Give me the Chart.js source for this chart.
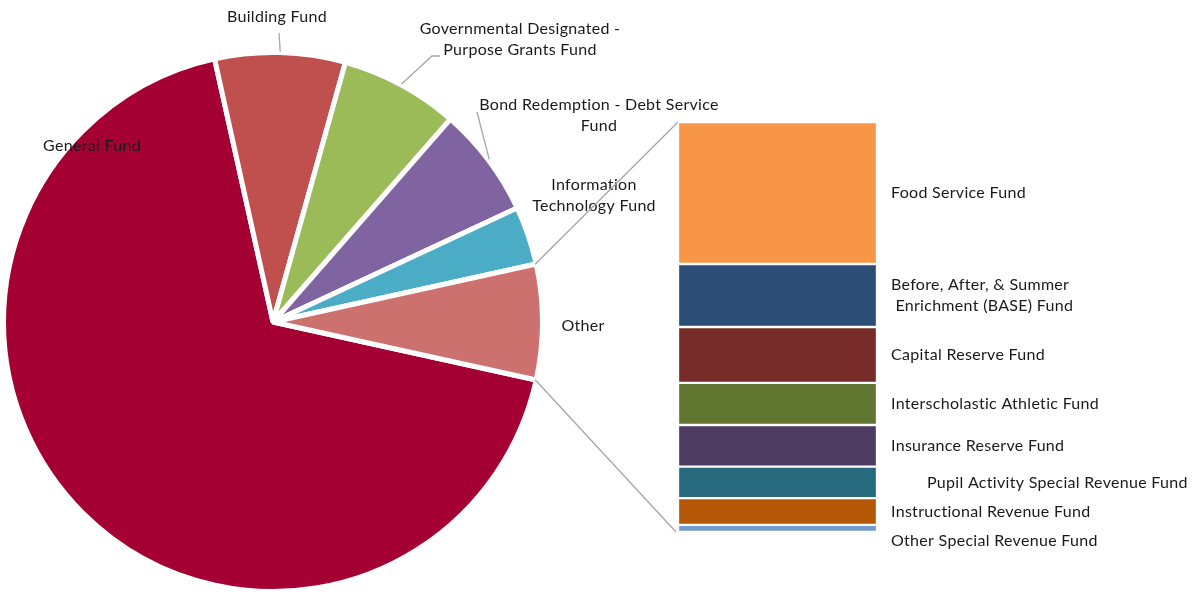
<!DOCTYPE html>
<html>
<head>
<meta charset="utf-8">
<script src="https://cdn.jsdelivr.net/npm/chart.js@4.4.0/dist/chart.umd.min.js"></script>
<style>
  html, body { margin: 0; padding: 0; background: #fff; }
  #wrap { position: relative; width: 1192px; height: 595px; overflow: hidden; }
  #wrap canvas { position: absolute; left: 0; top: 0; }
</style>
</head>
<body>
<div id="wrap">
  <canvas id="pie" width="1192" height="595"></canvas>
  <canvas id="bar" width="1192" height="595"></canvas>
</div>
<script>
// share of total revenue (%), main funds
const pieLabels = [
  'General Fund',
  'Building Fund',
  ['Governmental Designated -', 'Purpose Grants Fund'],
  ['Bond Redemption - Debt Service', 'Fund'],
  ['Information', 'Technology Fund']
];
const pieValues = [68.0, 7.8, 7.1, 6.6, 3.5];
const pieColors = ['#a50034', '#c0504d', '#9bbb59', '#8064a2', '#4bacc6'];

const otherLabel = 'Other';
const otherColor = '#cd716f';

// smaller funds grouped into "Other", top to bottom
const barLabels = [
  'Food Service Fund',
  ['Before, After, & Summer', ' Enrichment (BASE) Fund'],
  'Capital Reserve Fund',
  'Interscholastic Athletic Fund',
  'Insurance Reserve Fund',
  'Pupil Activity Special Revenue Fund',
  'Instructional Revenue Fund',
  'Other Special Revenue Fund'
];
const barValues = [2.39, 1.06, 0.94, 0.71, 0.70, 0.53, 0.45, 0.12];
const barColors = ['#f79646', '#2c4d75', '#772c2a', '#5f7530', '#4d3b62', '#276a7d', '#b65708', '#729aca'];

const FONT = '16px Lato, "DejaVu Sans", sans-serif';
const TEXT = '#1a1a1a';
const LEADER = '#a6a6a6';

const otherValue = barValues.reduce((a, b) => a + b, 0);
const allValues = pieValues.concat([otherValue]);
const total = allValues.reduce((a, b) => a + b, 0);
const otherDeg = otherValue / total * 360;

// where each pie label block is centred, and where its leader line bends to
const pieLabelLayout = [
  { x: 92, y: 146 },
  { x: 277, y: 17, leader: [[279, 33]] },
  { x: 520, y: 39.5, leader: [[432, 56], [440, 56]] },
  { x: 599, y: 115.5, leader: [[477, 112]] },
  { x: 594, y: 195 },
  { x: 583, y: 326 }
];

function drawLines(ctx, lines, x, y, align) {
  const arr = Array.isArray(lines) ? lines : [lines];
  const lh = 21;
  const y0 = y - (arr.length - 1) * lh / 2;
  ctx.textAlign = align;
  arr.forEach((t, i) => ctx.fillText(t, x, y0 + i * lh));
}

function setText(ctx) {
  ctx.font = FONT;
  ctx.fillStyle = TEXT;
  ctx.textBaseline = 'middle';
  ctx.letterSpacing = '0.3px';
}

const pieLabelPlugin = {
  id: 'pieLabels',
  afterDraw(chart) {
    const ctx = chart.ctx;
    const arcs = chart.getDatasetMeta(0).data;
    const labels = chart.data.labels;
    ctx.save();
    setText(ctx);
    arcs.forEach((arc, i) => {
      const lay = pieLabelLayout[i];
      if (lay.leader) {
        const mid = (arc.startAngle + arc.endAngle) / 2;
        const r = arc.outerRadius + 1;
        ctx.beginPath();
        ctx.strokeStyle = LEADER;
        ctx.lineWidth = 1.3;
        ctx.moveTo(arc.x + Math.cos(mid) * r, arc.y + Math.sin(mid) * r);
        lay.leader.forEach(p => ctx.lineTo(p[0], p[1]));
        ctx.stroke();
      }
      drawLines(ctx, labels[i], lay.x, lay.y, 'center');
    });
    ctx.restore();
  }
};

const pieChart = new Chart(document.getElementById('pie'), {
  type: 'pie',
  data: {
    labels: pieLabels.concat([otherLabel]),
    datasets: [{
      data: allValues,
      backgroundColor: pieColors.concat([otherColor]),
      borderColor: '#ffffff',
      borderWidth: 5
    }]
  },
  options: {
    responsive: false,
    animation: false,
    rotation: 90 + otherDeg / 2,
    layout: { padding: { left: 1, top: 50, right: 647, bottom: 1 } },
    plugins: { legend: { display: false }, tooltip: { enabled: false } }
  },
  plugins: [pieLabelPlugin]
});

// label offsets next to each bar segment
const barLabelLayout = [
  { dx: 14, dy: 0 },
  { dx: 14, dy: 0 },
  { dx: 14, dy: 0 },
  { dx: 14, dy: 0 },
  { dx: 14, dy: 0 },
  { dx: 50, dy: 0 },
  { dx: 14, dy: 0 },
  { dx: 14, dy: 12 }
];

const barLabelPlugin = {
  id: 'barLabels',
  afterDraw(chart) {
    const ctx = chart.ctx;
    ctx.save();
    setText(ctx);
    chart.data.datasets.forEach((ds, i) => {
      const bar = chart.getDatasetMeta(i).data[0];
      const lay = barLabelLayout[i];
      const right = bar.x + bar.width / 2;
      const cy = (bar.y + bar.base) / 2;
      drawLines(ctx, barLabels[i], right + lay.dx, cy + lay.dy, 'left');
    });
    ctx.restore();
  }
};

// lines joining the "Other" slice to the bar
const connectorPlugin = {
  id: 'connector',
  afterDraw(chart) {
    const ctx = chart.ctx;
    const metas = chart.data.datasets.map((d, i) => chart.getDatasetMeta(i).data[0]);
    const first = metas[0];
    const last = metas[metas.length - 1];
    const left = first.x - first.width / 2;
    const top = Math.min(first.y, first.base);
    const bottom = Math.max(last.y, last.base);
    const pieArcs = pieChart.getDatasetMeta(0).data;
    const arc = pieArcs[pieArcs.length - 1];
    const r = arc.outerRadius - 1;
    ctx.save();
    ctx.strokeStyle = LEADER;
    ctx.lineWidth = 1.3;
    ctx.beginPath();
    ctx.moveTo(arc.x + Math.cos(arc.startAngle) * r, arc.y + Math.sin(arc.startAngle) * r);
    ctx.lineTo(left, top);
    ctx.moveTo(arc.x + Math.cos(arc.endAngle) * r, arc.y + Math.sin(arc.endAngle) * r);
    ctx.lineTo(left - 2, bottom);
    ctx.stroke();
    ctx.restore();
  }
};

new Chart(document.getElementById('bar'), {
  type: 'bar',
  data: {
    labels: [otherLabel],
    datasets: barValues.map((v, i) => ({
      label: Array.isArray(barLabels[i]) ? barLabels[i].join(' ') : barLabels[i],
      data: [v],
      backgroundColor: barColors[i],
      borderColor: '#ffffff',
      borderWidth: 1.5,
      borderSkipped: false,
      categoryPercentage: 1,
      barPercentage: 1
    }))
  },
  options: {
    responsive: false,
    animation: false,
    layout: { padding: { left: 678, right: 315, top: 122, bottom: 63 } },
    scales: {
      x: { stacked: true, display: false },
      y: { stacked: true, display: false, reverse: true, min: 0, max: otherValue }
    },
    plugins: { legend: { display: false }, tooltip: { enabled: false } }
  },
  plugins: [barLabelPlugin, connectorPlugin]
});
</script>
</body>
</html>
